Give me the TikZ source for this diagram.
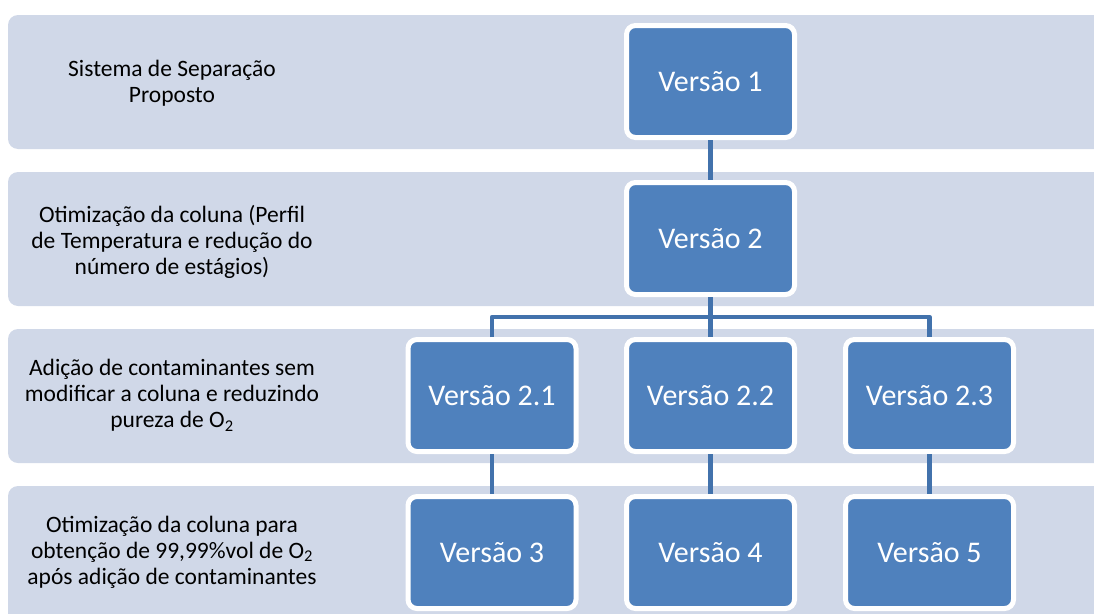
\documentclass[tikz,border=0pt]{standalone}
\usepackage{fontspec}
\setmainfont{Carlito}
\definecolor{bandfill}{HTML}{D0D8E8}
\definecolor{boxblue}{HTML}{4F81BD}
\definecolor{linkblue}{HTML}{4272AC}
\begin{document}
\begin{tikzpicture}[x=1pt,y=-1pt,
  bandbox/.style={fill=bandfill, draw=none, rounded corners=10pt},
  verbox/.style={fill=boxblue, draw=white, line width=5pt, rounded corners=9pt,
    minimum width=168pt, minimum height=112pt, inner sep=0pt, text=white,
    font=\fontsize{30}{36}\selectfont},
  lefttext/.style={align=center, inner sep=0pt, text=black,
    font=\fontsize{23.5}{26}\selectfont},
  link/.style={draw=linkblue, line width=4.8pt, line join=round}]
\useasboundingbox (0,0) rectangle (1094,613);
\clip (0,0) rectangle (1094,613);
% bands
\fill[bandbox] (8,15) rectangle (1120,149);
\fill[bandbox] (8,172) rectangle (1120,306);
\fill[bandbox] (8,329) rectangle (1120,463);
\fill[bandbox] (8,486) rectangle (1120,640);
% left texts
\node[lefttext] (t1) at (172,83.5) {Sistema de Separação\\Proposto};
\node[lefttext] (t2) at (172,242) {Otimização da coluna (Perfil\\de Temperatura e redução do\\número de estágios)};
\node[lefttext] (t3) at (172,395) {Adição de contaminantes sem\\modificar a coluna e reduzindo\\pureza de O\textsubscript{2}};
\node[lefttext] (t4) at (172,552) {Otimização da coluna para\\obtenção de 99,99\%vol de O\textsubscript{2}\\após adição de contaminantes};
% boxes
\node[verbox] (v1) at (710.5,81.5) {Versão 1};
\node[verbox] (v2) at (710.5,238.5) {Versão 2};
\node[verbox] (v21) at (492,395.5) {Versão 2.1};
\node[verbox] (v22) at (710.5,395.5) {Versão 2.2};
\node[verbox] (v23) at (929.5,395.5) {Versão 2.3};
\node[verbox] (v3) at (492,552.5) {Versão 3};
\node[verbox] (v4) at (710.5,552.5) {Versão 4};
\node[verbox] (v5) at (929.5,552.5) {Versão 5};
% connectors
\coordinate (bus) at (710.5,317);
\draw[link] (v1.south) -- (v2.north);
\draw[link] (v2.south) -- (bus);
\draw[link] (v21.north) -- (v21.north |- bus) -| (v23.north);
\draw[link] (bus) -- (v22.north);
\draw[link] (v21.south) -- (v3.north);
\draw[link] (v22.south) -- (v4.north);
\draw[link] (v23.south) -- (v5.north);
\end{tikzpicture}
\end{document}
